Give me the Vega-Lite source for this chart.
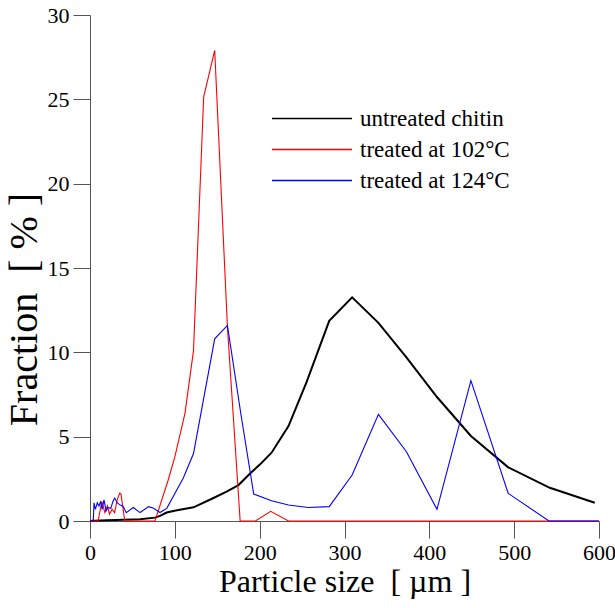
{
  "$schema": "https://vega.github.io/schema/vega-lite/v6.json",
  "width": 509,
  "height": 506,
  "autosize": {"type": "none"},
  "padding": {"left": 90, "top": 15, "right": 16, "bottom": 87},
  "config": {
    "view": {"stroke": null},
    "font": "Liberation Serif",
    "axis": {
      "grid": false,
      "domainColor": "#555555",
      "tickColor": "#555555",
      "tickSize": 17,
      "labelFontSize": 22,
      "labelColor": "#000000",
      "labelFont": "Liberation Serif",
      "titleFont": "Liberation Serif",
      "titleFontWeight": "normal",
      "titleColor": "#000000"
    },
    "legend": {"labelFont": "Liberation Serif"}
  },
  "datasets": {
    "psd": [
      {"series": "untreated chitin", "size": 0, "fraction": 0},
      {"series": "untreated chitin", "size": 5, "fraction": 0.02},
      {"series": "untreated chitin", "size": 20, "fraction": 0.05},
      {"series": "untreated chitin", "size": 40, "fraction": 0.08},
      {"series": "untreated chitin", "size": 59, "fraction": 0.1},
      {"series": "untreated chitin", "size": 76.6, "fraction": 0.2},
      {"series": "untreated chitin", "size": 82.5, "fraction": 0.3},
      {"series": "untreated chitin", "size": 90.4, "fraction": 0.5},
      {"series": "untreated chitin", "size": 101, "fraction": 0.62},
      {"series": "untreated chitin", "size": 122, "fraction": 0.81},
      {"series": "untreated chitin", "size": 145, "fraction": 1.35},
      {"series": "untreated chitin", "size": 161, "fraction": 1.74},
      {"series": "untreated chitin", "size": 175, "fraction": 2.13},
      {"series": "untreated chitin", "size": 189, "fraction": 2.83},
      {"series": "untreated chitin", "size": 200.5, "fraction": 3.36},
      {"series": "untreated chitin", "size": 214, "fraction": 4.05},
      {"series": "untreated chitin", "size": 234, "fraction": 5.63},
      {"series": "untreated chitin", "size": 255.5, "fraction": 8.26},
      {"series": "untreated chitin", "size": 282, "fraction": 11.87},
      {"series": "untreated chitin", "size": 309, "fraction": 13.26},
      {"series": "untreated chitin", "size": 340, "fraction": 11.75},
      {"series": "untreated chitin", "size": 373, "fraction": 9.7},
      {"series": "untreated chitin", "size": 409, "fraction": 7.35},
      {"series": "untreated chitin", "size": 449, "fraction": 5.04},
      {"series": "untreated chitin", "size": 493, "fraction": 3.18},
      {"series": "untreated chitin", "size": 542, "fraction": 1.97},
      {"series": "untreated chitin", "size": 595, "fraction": 1.08},

      {"series": "treated at 102°C", "size": 0, "fraction": 0},
      {"series": "treated at 102°C", "size": 9.5, "fraction": 0},
      {"series": "treated at 102°C", "size": 14, "fraction": 1.15},
      {"series": "treated at 102°C", "size": 17.5, "fraction": 0.5},
      {"series": "treated at 102°C", "size": 20.5, "fraction": 0.9},
      {"series": "treated at 102°C", "size": 23, "fraction": 0.4},
      {"series": "treated at 102°C", "size": 26, "fraction": 0.7},
      {"series": "treated at 102°C", "size": 29, "fraction": 0.5},
      {"series": "treated at 102°C", "size": 32, "fraction": 1.25},
      {"series": "treated at 102°C", "size": 35, "fraction": 1.65},
      {"series": "treated at 102°C", "size": 36.5, "fraction": 1.6},
      {"series": "treated at 102°C", "size": 41, "fraction": 0},
      {"series": "treated at 102°C", "size": 76.6, "fraction": 0},
      {"series": "treated at 102°C", "size": 92, "fraction": 2.4},
      {"series": "treated at 102°C", "size": 100, "fraction": 3.8},
      {"series": "treated at 102°C", "size": 112, "fraction": 6.4},
      {"series": "treated at 102°C", "size": 122, "fraction": 10.1},
      {"series": "treated at 102°C", "size": 134, "fraction": 25.15},
      {"series": "treated at 102°C", "size": 147, "fraction": 27.9},
      {"series": "treated at 102°C", "size": 162, "fraction": 11.5},
      {"series": "treated at 102°C", "size": 177, "fraction": 0},
      {"series": "treated at 102°C", "size": 195, "fraction": 0},
      {"series": "treated at 102°C", "size": 213, "fraction": 0.57},
      {"series": "treated at 102°C", "size": 234, "fraction": 0},
      {"series": "treated at 102°C", "size": 600, "fraction": 0},

      {"series": "treated at 124°C", "size": 0, "fraction": 0},
      {"series": "treated at 124°C", "size": 3.9, "fraction": 0.05},
      {"series": "treated at 124°C", "size": 4.7, "fraction": 1.08},
      {"series": "treated at 124°C", "size": 6.3, "fraction": 0.69},
      {"series": "treated at 124°C", "size": 8.6, "fraction": 1.08},
      {"series": "treated at 124°C", "size": 10.6, "fraction": 0.88},
      {"series": "treated at 124°C", "size": 12.6, "fraction": 1.17},
      {"series": "treated at 124°C", "size": 14.2, "fraction": 0.69},
      {"series": "treated at 124°C", "size": 16.5, "fraction": 1.25},
      {"series": "treated at 124°C", "size": 19, "fraction": 0.6},
      {"series": "treated at 124°C", "size": 21, "fraction": 0.8},
      {"series": "treated at 124°C", "size": 24.5, "fraction": 0.75},
      {"series": "treated at 124°C", "size": 27.1, "fraction": 1.17},
      {"series": "treated at 124°C", "size": 29.1, "fraction": 1.36},
      {"series": "treated at 124°C", "size": 32.2, "fraction": 1.07},
      {"series": "treated at 124°C", "size": 35, "fraction": 0.97},
      {"series": "treated at 124°C", "size": 38.9, "fraction": 0.88},
      {"series": "treated at 124°C", "size": 42.8, "fraction": 0.49},
      {"series": "treated at 124°C", "size": 51, "fraction": 0.8},
      {"series": "treated at 124°C", "size": 59, "fraction": 0.5},
      {"series": "treated at 124°C", "size": 69, "fraction": 0.85},
      {"series": "treated at 124°C", "size": 75, "fraction": 0.75},
      {"series": "treated at 124°C", "size": 82.5, "fraction": 0.5},
      {"series": "treated at 124°C", "size": 90.5, "fraction": 0.75},
      {"series": "treated at 124°C", "size": 110, "fraction": 2.55},
      {"series": "treated at 124°C", "size": 122, "fraction": 4.0},
      {"series": "treated at 124°C", "size": 147, "fraction": 10.8},
      {"series": "treated at 124°C", "size": 162, "fraction": 11.6},
      {"series": "treated at 124°C", "size": 178, "fraction": 6.3},
      {"series": "treated at 124°C", "size": 193, "fraction": 1.6},
      {"series": "treated at 124°C", "size": 214, "fraction": 1.2},
      {"series": "treated at 124°C", "size": 234, "fraction": 0.95},
      {"series": "treated at 124°C", "size": 257, "fraction": 0.8},
      {"series": "treated at 124°C", "size": 282, "fraction": 0.85},
      {"series": "treated at 124°C", "size": 309, "fraction": 2.73},
      {"series": "treated at 124°C", "size": 340, "fraction": 6.32},
      {"series": "treated at 124°C", "size": 373, "fraction": 4.11},
      {"series": "treated at 124°C", "size": 409, "fraction": 0.69},
      {"series": "treated at 124°C", "size": 449, "fraction": 8.32},
      {"series": "treated at 124°C", "size": 493, "fraction": 1.64},
      {"series": "treated at 124°C", "size": 541, "fraction": 0},
      {"series": "treated at 124°C", "size": 600, "fraction": 0}
    ]
  },
  "data": {"name": "psd"},
  "mark": {"type": "line", "clip": false},
  "encoding": {
    "x": {
      "field": "size",
      "type": "quantitative",
      "scale": {"domain": [0, 600], "nice": false, "zero": false},
      "axis": {
        "values": [0, 100, 200, 300, 400, 500, 600],
        "title": "Particle size \u00a0[ µm ]",
        "titleFontSize": 32,
        "labelPadding": 4,
        "titlePadding": 3,
        "labelFlush": false
      }
    },
    "y": {
      "field": "fraction",
      "type": "quantitative",
      "scale": {"domain": [0, 30], "nice": false},
      "axis": {
        "values": [0, 5, 10, 15, 20, 25, 30],
        "title": "Fraction \u00a0[ % ]",
        "titleFontSize": 40,
        "titleY": 294,
        "labelPadding": 4,
        "titlePadding": 3
      }
    },
    "color": {
      "field": "series",
      "type": "nominal",
      "scale": {
        "domain": ["untreated chitin", "treated at 102°C", "treated at 124°C"],
        "range": ["#000000", "#ff0000", "#0000ff"]
      },
      "legend": {
        "title": null,
        "orient": "none",
        "legendX": 181,
        "legendY": 92,
        "symbolType": "stroke",
        "symbolSize": 6400,
        "symbolStrokeWidth": 1.3,
        "clipHeight": 23,
        "rowPadding": 7,
        "labelFontSize": 23,
        "labelOffset": 7,
        "labelColor": "#000000",
        "labelBaseline": "middle"
      }
    },
    "strokeWidth": {
      "condition": {"test": "datum.series === 'untreated chitin'", "value": 2},
      "value": 1.1
    }
  }
}
